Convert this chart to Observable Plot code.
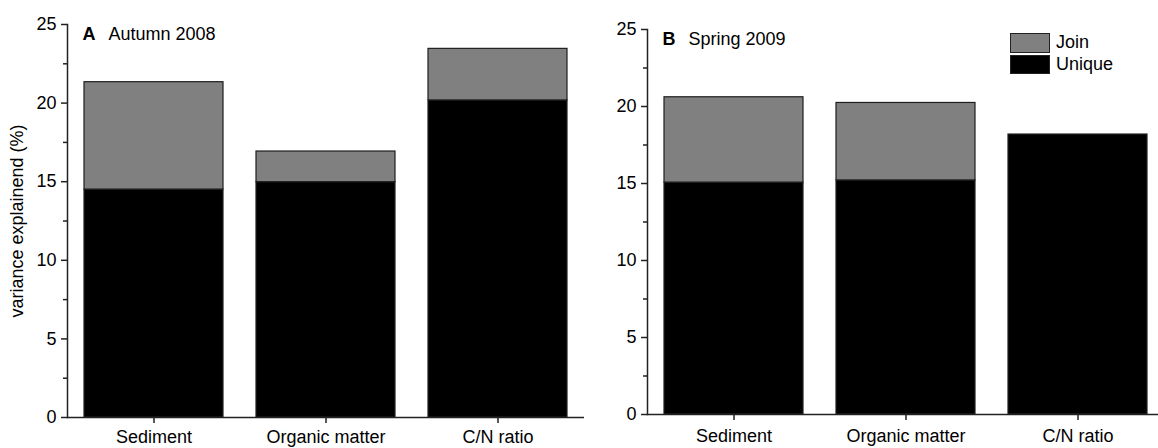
<!DOCTYPE html>
<html>
<head>
<meta charset="utf-8">
<script src="https://cdn.jsdelivr.net/npm/d3@7"></script>
<script src="https://cdn.jsdelivr.net/npm/@observablehq/plot@0.6"></script>
<style>
  html, body { margin: 0; padding: 0; background: #fff; overflow: hidden; }
  #wrap { position: relative; width: 1158px; height: 448px; overflow: hidden;
          font-family: "Liberation Sans", Arial, sans-serif; }
  .panel { position: absolute; top: 0; }
  .legend { position: absolute; left: 1010px; top: 32px; font-size: 18px; color: #000; }
  .legend .item { display: flex; align-items: center; height: 21.5px; }
  .legend .sw { box-sizing: border-box; width: 40px; height: 19.5px; margin-right: 6px; border: 1.5px solid #222; }
</style>
</head>
<body>
<div id="wrap"></div>
<script>
// Variance partitioning: unique vs. joint share explained by each variable
const categories = ["Sediment", "Organic matter", "C/N ratio"];
const parts = ["Unique", "Join"];           // stacking order, bottom to top
const partColors = ["#000000", "#808080"];
const yTicks = [0, 5, 10, 15, 20, 25];
const yMinorTicks = [2.5, 7.5, 12.5, 17.5, 22.5];

const autumnUnique = [14.5, 14.97, 20.17];
const autumnJoin = [6.83, 1.95, 3.28];
const springUnique = [15.06, 15.2, 18.18];
const springJoin = [5.54, 5.03, 0];

const yLabel = "variance explainend (%)";
const font = "'Liberation Sans', Arial, sans-serif";
const axisColor = "#222";

function panel({letter, season, unique, join, marginTop, marginBottom, labelPad, showLabel}) {
  const rows = [];
  categories.forEach((c, i) => {
    rows.push({category: c, part: "Unique", value: unique[i]});
    if (join[i] > 0) rows.push({category: c, part: "Join", value: join[i]});
  });
  return Plot.plot({
    width: 600,
    height: 448,
    marginLeft: 67,
    marginRight: 16,
    marginTop,
    marginBottom,
    style: {fontFamily: font, fontSize: "18px", color: "#000", background: "transparent", overflow: "visible"},
    x: {domain: categories, paddingInner: 0.19, paddingOuter: 0.095, axis: null},
    y: {domain: [0, 25], axis: null},
    color: {domain: parts, range: partColors},
    marks: [
      Plot.barY(rows, Plot.stackY({
        x: "category", y: "value", fill: "part", order: parts,
        stroke: "#1e1e1e", strokeWidth: 1.2
      })),
      Plot.ruleY([0], {stroke: axisColor, strokeWidth: 1.5}),
      Plot.frame({anchor: "left", stroke: axisColor, strokeWidth: 1.5}),
      Plot.axisY(yTicks, {
        tickSize: 6, tickPadding: 5, stroke: axisColor, strokeWidth: 1.5,
        label: showLabel ? yLabel : null, labelAnchor: "center", labelArrow: "none", labelOffset: 57
      }),
      Plot.axisY(yMinorTicks, {tickSize: 4, tickFormat: () => "", stroke: axisColor, strokeWidth: 1.5, label: null}),
      Plot.axisX({tickSize: 6, tickPadding: labelPad, stroke: axisColor, strokeWidth: 1.5, label: null}),
      Plot.text([letter], {frameAnchor: "top-left", dx: 15, dy: 3, lineAnchor: "top", fontWeight: "bold", fontSize: 18}),
      Plot.text([season], {frameAnchor: "top-left", dx: 41, dy: 3, lineAnchor: "top", fontSize: 18})
    ]
  });
}

const wrap = document.getElementById("wrap");

const right = panel({letter: "B", season: "Spring 2009", unique: springUnique, join: springJoin,
                     marginTop: 29, marginBottom: 34, labelPad: 9, showLabel: false});
right.classList.add("panel");
right.style.left = "580px";
wrap.appendChild(right);

const left = panel({letter: "A", season: "Autumn 2008", unique: autumnUnique, join: autumnJoin,
                    marginTop: 24, marginBottom: 31, labelPad: 7, showLabel: true});
left.classList.add("panel");
left.style.left = "0px";
wrap.appendChild(left);

// Legend: top of stack first
const legend = document.createElement("div");
legend.className = "legend";
parts.slice().reverse().forEach(p => {
  const item = document.createElement("div");
  item.className = "item";
  const sw = document.createElement("span");
  sw.className = "sw";
  sw.style.background = partColors[parts.indexOf(p)];
  item.appendChild(sw);
  item.appendChild(document.createTextNode(p));
  legend.appendChild(item);
});
wrap.appendChild(legend);
</script>
</body>
</html>
